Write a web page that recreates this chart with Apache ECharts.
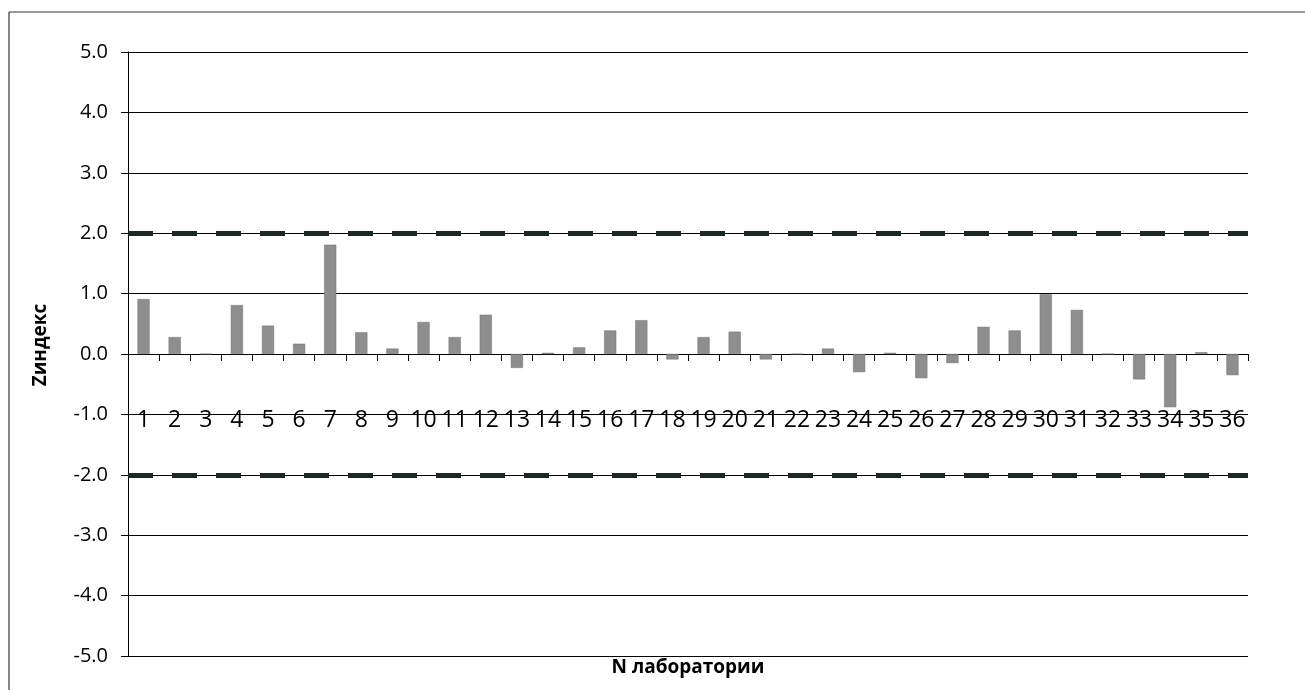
<!DOCTYPE html>
<html>
<head>
<meta charset="utf-8">
<script src="https://cdn.jsdelivr.net/npm/echarts@6/dist/echarts.min.js"></script>
<style>html,body{margin:0;padding:0;background:#fff}#c{width:1305px;height:690px}</style>
</head>
<body>
<div id="c"></div>
<script>
const labs = ['1','2','3','4','5','6','7','8','9','10','11','12','13','14','15','16','17','18','19','20','21','22','23','24','25','26','27','28','29','30','31','32','33','34','35','36'];
const zScores = [0.91,0.28,0,0.81,0.47,0.17,1.81,0.36,0.09,0.53,0.28,0.65,-0.23,0.02,0.11,0.39,0.56,-0.09,0.28,0.37,-0.09,0,0.09,-0.30,0.02,-0.40,-0.15,0.45,0.39,0.99,0.73,0,-0.42,-0.88,0.03,-0.35];
const limits = [2,-2];
const yTicks = {min:-5, max:5, interval:1};
const xTitle = 'N лаборатории';
const yTitle = 'Zиндекс';

const chart = echarts.init(document.getElementById('c'));
const font = 'Open Sans, Liberation Sans, sans-serif';
chart.setOption({
  animation:false,
  backgroundColor:'#fff',
  graphic:[
    {type:'line', shape:{x1:9,y1:12,x2:1305,y2:12}, style:{stroke:'#333',lineWidth:1.2}},
    {type:'line', shape:{x1:9,y1:12,x2:9,y2:690}, style:{stroke:'#333',lineWidth:1.2}},
    {type:'text', x:41, y:345, rotation:Math.PI/2, style:{text:yTitle, font:'bold 19px '+font, fill:'#000', align:'center', verticalAlign:'middle'}},
    {type:'text', x:688, y:668, style:{text:xTitle, font:'bold 19px '+font, fill:'#000', align:'center', verticalAlign:'middle'}}
  ],
  grid:{left:128, right:57, top:52, bottom:34, containLabel:false, outerBoundsMode:'none'},
  xAxis:{
    type:'category', data:labs,
    axisLine:{onZero:true, lineStyle:{color:'#000', width:1}},
    axisTick:{show:true, length:7, lineStyle:{color:'#000'}, alignWithLabel:false},
    axisLabel:{show:true, margin:-247, fontFamily:font, fontSize:23, color:'#000', interval:0, hideOverlap:false},
    splitLine:{show:false}
  },
  yAxis:{
    type:'value', min:yTicks.min, max:yTicks.max, interval:yTicks.interval,
    axisLine:{show:true, lineStyle:{color:'#000', width:1}},
    axisTick:{show:true, length:7, lineStyle:{color:'#000'}},
    axisLabel:{margin:20, fontFamily:font, fontSize:20, color:'#000', formatter:v=>v.toFixed(1)},
    splitLine:{show:true, lineStyle:{color:'#000', width:1}}
  },
  series:[{
    type:'bar', data:zScores, barWidth:'39%',
    itemStyle:{color:'#8e8e8e', borderColor:'#6e6e6e', borderWidth:0.5},
    markLine:{
      silent:true, symbol:'none', label:{show:false},
      lineStyle:{color:'#1e2822', width:5, type:[25,19], cap:'butt'},
      data: limits.map(v=>({yAxis:v}))
    }
  }]
});
</script>
</body>
</html>
